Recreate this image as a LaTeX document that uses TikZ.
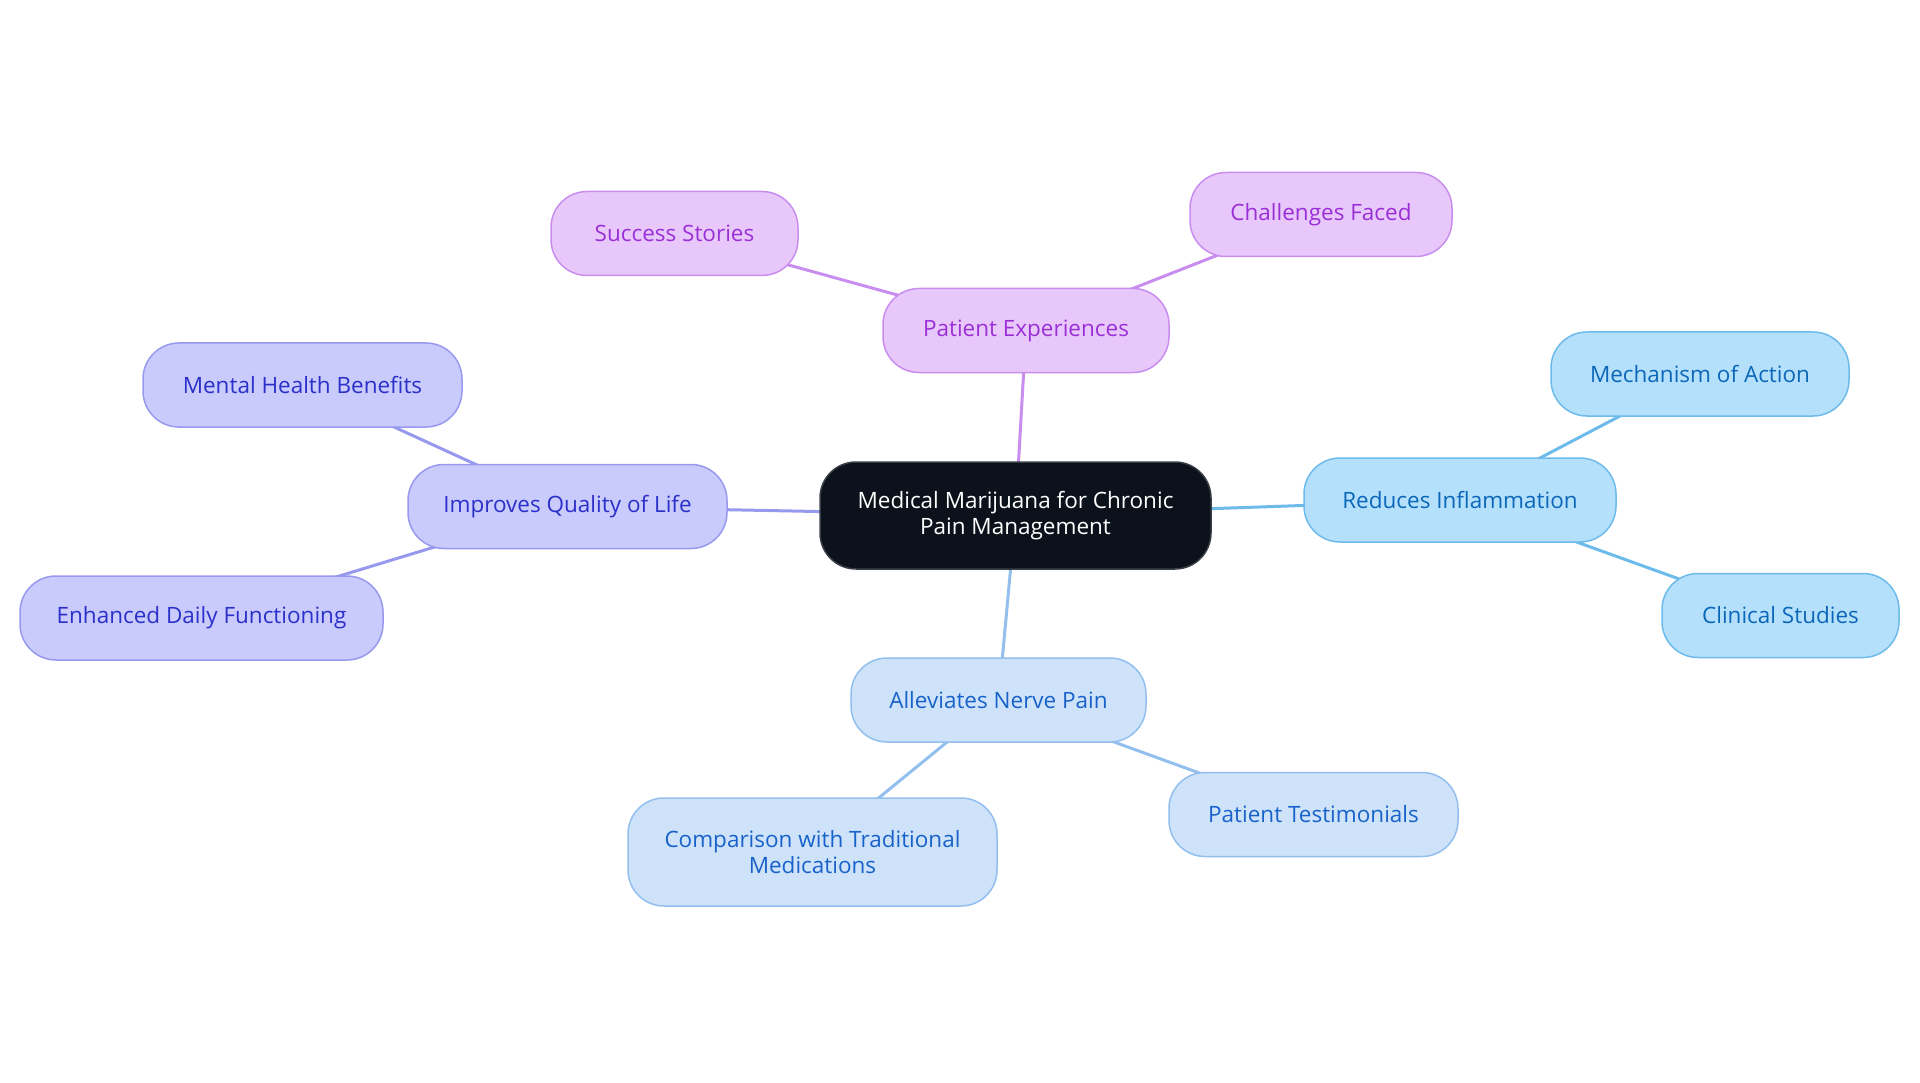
\documentclass[tikz,border=0pt]{standalone}
\usepackage{fontspec}
\setmainfont{Open Sans}
\usetikzlibrary{backgrounds}
\definecolor{pfill}{HTML}{E8C8FB}
\definecolor{pdraw}{HTML}{C98DEF}
\definecolor{ptext}{HTML}{9A2FD6}
\definecolor{ifill}{HTML}{C9CBFC}
\definecolor{idraw}{HTML}{9799EE}
\definecolor{itext}{HTML}{2B30C9}
\definecolor{sfill}{HTML}{B5E0FC}
\definecolor{sdraw}{HTML}{6DBBEB}
\definecolor{stext}{HTML}{0B67B8}
\definecolor{bfill}{HTML}{CEE3FA}
\definecolor{bdraw}{HTML}{93BFEE}
\definecolor{btext}{HTML}{1862C9}
\definecolor{cfill}{HTML}{0C121B}
\definecolor{cdraw}{HTML}{3A3F47}
\tikzset{
  mmbox/.style={rounded corners=36pt, line width=1.5pt, align=center,
    minimum height=84pt, inner xsep=4pt, inner ysep=0pt,
    font=\fontsize{22.5}{26}\selectfont},
  pbox/.style={mmbox, fill=pfill, draw=pdraw, text=ptext},
  ibox/.style={mmbox, fill=ifill, draw=idraw, text=itext},
  sbox/.style={mmbox, fill=sfill, draw=sdraw, text=stext},
  bbox/.style={mmbox, fill=bfill, draw=bdraw, text=btext},
  cbox/.style={mmbox, fill=cfill, draw=cdraw, text=white},
  plink/.style={line width=3pt, draw=pdraw},
  ilink/.style={line width=3pt, draw=idraw},
  slink/.style={line width=3pt, draw=sdraw},
  blink/.style={line width=3pt, draw=bdraw},
}
\begin{document}
\begin{tikzpicture}[x=1pt,y=-1pt]
\useasboundingbox (0,0) rectangle (1920,1083);
\node[cbox, minimum width=391pt, minimum height=107pt] (c) at (1015.5,515.5) {Medical Marijuana for Chronic\\Pain Management};
\node[pbox, minimum width=286pt] (pe) at (1026,330.5) {Patient Experiences};
\node[pbox, minimum width=247pt] (ss) at (674.5,233.5) {Success Stories};
\node[pbox, minimum width=262pt] (cf) at (1321,214.5) {Challenges Faced};
\node[ibox, minimum width=319pt] (iq) at (567.5,506.5) {Improves Quality of Life};
\node[ibox, minimum width=319pt] (mh) at (302.5,385) {Mental Health Benefits};
\node[ibox, minimum width=363pt] (ed) at (201.5,618) {Enhanced Daily Functioning};
\node[sbox, minimum width=312pt] (ri) at (1460,500) {Reduces Inflammation};
\node[sbox, minimum width=298pt] (ma) at (1700,374) {Mechanism of Action};
\node[sbox, minimum width=237pt] (cs) at (1780.5,615.5) {Clinical Studies};
\node[bbox, minimum width=295pt] (an) at (998.5,700) {Alleviates Nerve Pain};
\node[bbox, minimum width=369pt, minimum height=108pt] (ct) at (812.5,852) {Comparison with Traditional\\Medications};
\node[bbox, minimum width=289pt] (pt) at (1313.5,814.5) {Patient Testimonials};
\begin{scope}[on background layer]
\draw[plink] (c.center) -- (pe.center);
\draw[plink] (pe.center) -- (ss.center);
\draw[plink] (pe.center) -- (cf.center);
\draw[ilink] (c.center) -- (iq.center);
\draw[ilink] (iq.center) -- (mh.center);
\draw[ilink] (iq.center) -- (ed.center);
\draw[slink] (c.center) -- (ri.center);
\draw[slink] (ri.center) -- (ma.center);
\draw[slink] (ri.center) -- (cs.center);
\draw[blink] (c.center) -- (an.center);
\draw[blink] (an.center) -- (ct.center);
\draw[blink] (an.center) -- (pt.center);
\end{scope}
\end{tikzpicture}
\end{document}
